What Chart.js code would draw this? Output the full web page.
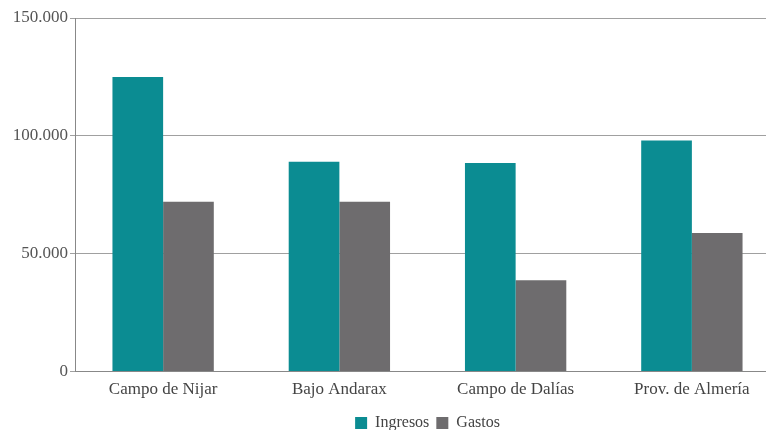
<!DOCTYPE html>
<html>
<head>
<meta charset="utf-8">
<script src="https://cdn.jsdelivr.net/npm/chart.js@4/dist/chart.umd.min.js"></script>
<style>
    html, body { margin: 0; padding: 0; background: #fff; overflow: hidden; }
    #wrap { width: 780px; height: 441px; position: relative; }
</style>
</head>
<body>
<div id="wrap"><canvas id="chart"></canvas></div>
<script>
// Datos del gráfico
const categories = ['Campo de Nijar', 'Bajo Andarax', 'Campo de Dalías', 'Prov. de Almería'];
const ingresos = [125000, 89000, 88500, 98000];
const gastos = [72000, 72000, 38800, 58800];
const yTicks = [0, 50000, 100000, 150000];

const serif = "'Liberation Serif', 'DejaVu Serif', serif";

// formato 150.000
function fmt(v) {
    return String(v).replace(/\B(?=(\d{3})+(?!\d))/g, '.');
}

const ctx = document.getElementById('chart').getContext('2d');

new Chart(ctx, {
    type: 'bar',
    data: {
        labels: categories,
        datasets: [
            {
                label: 'Ingresos',
                data: ingresos,
                backgroundColor: '#0b8c92',
                categoryPercentage: 0.575,
                barPercentage: 1
            },
            {
                label: 'Gastos',
                data: gastos,
                backgroundColor: '#6e6c6e',
                categoryPercentage: 0.575,
                barPercentage: 1
            }
        ]
    },
    options: {
        responsive: true,
        maintainAspectRatio: false,
        animation: false,
        layout: { padding: { top: 18, left: 0, right: 0, bottom: 0 } },
        plugins: {
            tooltip: { enabled: false },
            legend: {
                position: 'bottom',
                fullSize: false, // centrar bajo el área del gráfico
                labels: {
                    font: { family: serif, size: 16 },
                    color: '#444',
                    boxWidth: 12,
                    boxHeight: 12,
                    padding: 7
                }
            }
        },
        scales: {
            x: {
                grid: { display: false, drawTicks: false },
                border: { color: '#888', width: 1 },
                ticks: {
                    font: { family: serif, size: 17 },
                    color: '#444',
                    padding: 8
                }
            },
            y: {
                min: 0,
                max: 150000,
                afterBuildTicks: scale => {
                    scale.ticks = yTicks.map(v => ({ value: v }));
                },
                afterFit: scale => { scale.width = 75; },
                grid: {
                    color: '#a0a0a0',
                    lineWidth: 1,
                    tickLength: 5
                },
                border: { color: '#888', width: 1 },
                ticks: {
                    font: { family: serif, size: 17 },
                    color: '#555',
                    padding: 2,
                    callback: v => fmt(v)
                }
            }
        }
    }
});
</script>
</body>
</html>
